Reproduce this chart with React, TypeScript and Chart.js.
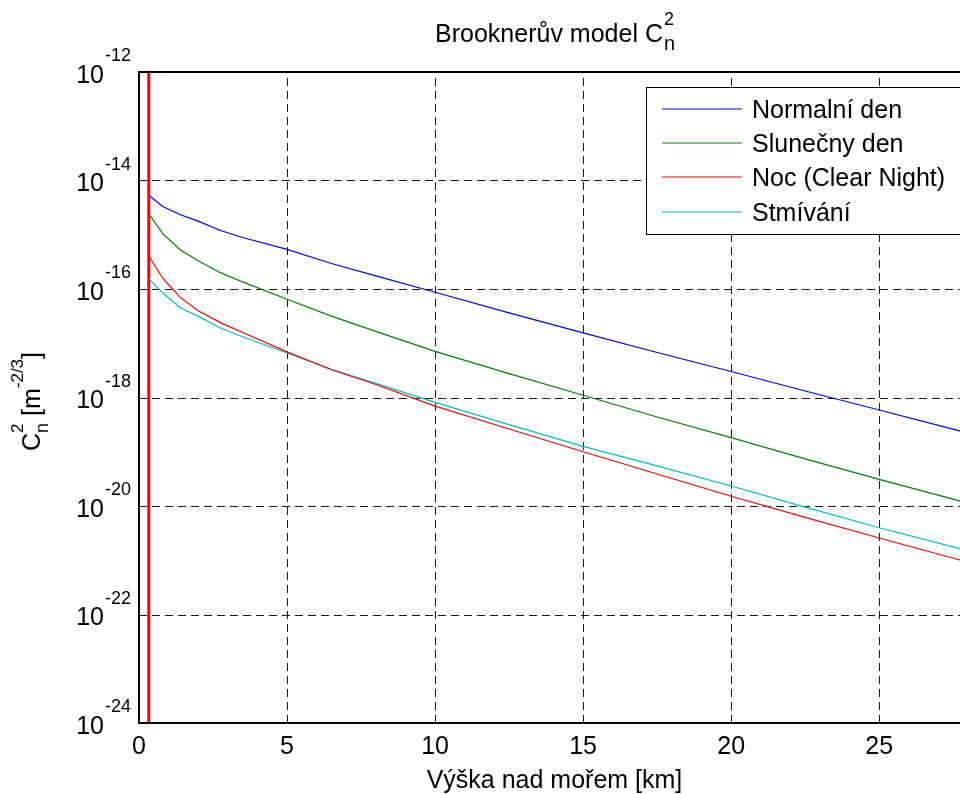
import { useEffect, useRef } from 'react';
import { Chart, registerables } from 'chart.js';

Chart.register(...registerables);

const FONT = "'Liberation Sans', Arial, Helvetica, sans-serif";

// Altitude samples [km]
const altitudeKm = [0.35, 0.8, 1.4, 2, 2.75, 3.5, 5, 6.5, 8, 10, 12.5, 15, 17.5, 20, 22.5, 25, 27.75, 28];

// Cn^2 values [m^-2/3]
const normalniDen = [5.25e-15, 3.31e-15, 2.34e-15, 1.78e-15, 1.2e-15, 8.91e-16, 5.37e-16, 2.95e-16, 1.74e-16, 8.71e-17, 3.63e-17, 1.55e-17, 6.76e-18, 3.02e-18, 1.32e-18, 5.89e-19, 2.4e-19, 2.19e-19];
const slunecnyDen = [2.34e-15, 1.05e-15, 5.25e-16, 3.31e-16, 2.0e-16, 1.35e-16, 6.46e-17, 3.16e-17, 1.66e-17, 7.08e-18, 2.75e-18, 1.1e-18, 4.37e-19, 1.82e-19, 7.41e-20, 3.09e-20, 1.23e-20, 1.12e-20];
const noc = [3.89e-16, 1.58e-16, 6.92e-17, 3.98e-17, 2.4e-17, 1.58e-17, 6.92e-18, 3.24e-18, 1.74e-18, 6.92e-19, 2.63e-19, 1.0e-19, 3.89e-20, 1.51e-20, 6.17e-21, 2.57e-21, 1.0e-21, 9.12e-22];
const stmivani = [1.51e-16, 8.51e-17, 4.47e-17, 3.16e-17, 1.91e-17, 1.32e-17, 6.61e-18, 3.31e-18, 1.82e-18, 8.13e-19, 3.16e-19, 1.26e-19, 5.5e-20, 2.34e-20, 9.55e-21, 3.98e-21, 1.62e-21, 1.48e-21];

const seriesLabels = ['Normalní den', 'Slunečny den', 'Noc (Clear Night)', 'Stmívání'];
const seriesColors = ['#0000ff', '#008000', '#ff0000', '#00bfbf'];

// Vertical red marker
const markerKm = [0.33, 0.33];
const markerVal = [1e-24, 1e-12];

// Axes
const xTickValues = [0, 5, 10, 15, 20, 25];
const yTickValues = [1e-24, 1e-22, 1e-20, 1e-18, 1e-16, 1e-14, 1e-12];
const yTickExponents = ['-24', '-22', '-20', '-18', '-16', '-14', '-12'];

const decorPlugin = {
  id: 'matlabDecor',
  beforeDatasetsDraw(chart: any) {
    const { ctx, chartArea } = chart;
    const xs = chart.scales.x;
    const ys = chart.scales.y;
    ctx.save();
    ctx.strokeStyle = 'rgba(0,0,0,0.9)';
    ctx.lineWidth = 1;
    ctx.setLineDash([8, 5]);
    ctx.beginPath();
    xTickValues.forEach((v) => {
      if (v === 0) return;
      const px = Math.round(xs.getPixelForValue(v)) + 0.5;
      ctx.moveTo(px, chartArea.bottom);
      ctx.lineTo(px, chartArea.top);
    });
    yTickValues.forEach((v, i) => {
      if (i === 0 || i === yTickValues.length - 1) return;
      const py = Math.round(ys.getPixelForValue(v)) + 0.5;
      ctx.moveTo(chartArea.left, py);
      ctx.lineTo(chartArea.right, py);
    });
    ctx.stroke();
    ctx.restore();
  },
  afterDraw(chart: any) {
    const { ctx, chartArea } = chart;
    const ys = chart.scales.y;
    ctx.save();
    ctx.setLineDash([]);
    // axes box
    ctx.strokeStyle = '#000';
    ctx.lineWidth = 2;
    ctx.strokeRect(chartArea.left, chartArea.top, chartArea.right - chartArea.left, chartArea.bottom - chartArea.top);

    ctx.fillStyle = '#000';
    ctx.textBaseline = 'alphabetic';
    ctx.textAlign = 'left';

    // y tick labels 10^e
    yTickValues.forEach((v, i) => {
      const py = ys.getPixelForValue(v);
      ctx.font = `25px ${FONT}`;
      const mainW = ctx.measureText('10').width;
      ctx.font = `18px ${FONT}`;
      const supW = ctx.measureText(yTickExponents[i]).width;
      const x0 = chartArea.left - 9 - supW - mainW;
      ctx.font = `25px ${FONT}`;
      ctx.fillText('10', x0, py + 10.5);
      ctx.font = `18px ${FONT}`;
      ctx.fillText(yTickExponents[i], x0 + mainW + 1, py - 11);
    });

    // title
    const cx = (chartArea.left + chartArea.right) / 2 + 1;
    ctx.font = `25px ${FONT}`;
    const tMain = 'Brooknerův model C';
    const tW = ctx.measureText(tMain).width;
    ctx.font = `18px ${FONT}`;
    const t2W = ctx.measureText('2').width;
    const tx = cx - (tW + t2W + 1) / 2;
    ctx.font = `25px ${FONT}`;
    ctx.fillText(tMain, tx, 42);
    ctx.font = `18px ${FONT}`;
    ctx.fillText('2', tx + tW + 1, 25);
    ctx.font = `20px ${FONT}`;
    ctx.fillText('n', tx + tW + 1, 50);

    // x axis label
    ctx.font = `25px ${FONT}`;
    ctx.textAlign = 'center';
    ctx.fillText('Výška nad mořem [km]', cx, 788);
    ctx.textAlign = 'left';

    // y axis label (rotated)
    ctx.save();
    ctx.translate(40, (chartArea.top + chartArea.bottom) / 2 + 4);
    ctx.rotate(-Math.PI / 2);
    ctx.font = `25px ${FONT}`;
    const wC = ctx.measureText('C').width;
    const wMid = ctx.measureText(' [m').width;
    const wEnd = ctx.measureText(']').width;
    ctx.font = `17px ${FONT}`;
    const w2 = ctx.measureText('2').width;
    const wExp = ctx.measureText('-2/3').width;
    ctx.font = `18px ${FONT}`;
    const wn = ctx.measureText('n').width;
    const wStack = Math.max(w2, wn);
    const total = wC + wStack + wMid + wExp + wEnd;
    let lx = -total / 2;
    ctx.font = `25px ${FONT}`;
    ctx.fillText('C', lx, 0);
    lx += wC;
    ctx.font = `17px ${FONT}`;
    ctx.fillText('2', lx, -17);
    ctx.font = `18px ${FONT}`;
    ctx.fillText('n', lx, 8);
    lx += wStack;
    ctx.font = `25px ${FONT}`;
    ctx.fillText(' [m', lx, 0);
    lx += wMid;
    ctx.font = `17px ${FONT}`;
    ctx.fillText('-2/3', lx, -17);
    lx += wExp;
    ctx.font = `25px ${FONT}`;
    ctx.fillText(']', lx, 0);
    ctx.restore();

    // legend
    const lgL = 646, lgT = 87, lgR = 962, lgB = 234;
    ctx.fillStyle = '#fff';
    ctx.fillRect(lgL, lgT, lgR - lgL, lgB - lgT);
    ctx.strokeStyle = '#000';
    ctx.lineWidth = 1;
    ctx.strokeRect(lgL + 0.5, lgT + 0.5, lgR - lgL, lgB - lgT);
    const rows = [109, 143, 177, 212];
    seriesLabels.forEach((lab, i) => {
      ctx.strokeStyle = seriesColors[i];
      ctx.lineWidth = 1.2;
      ctx.beginPath();
      ctx.moveTo(662, rows[i]);
      ctx.lineTo(742, rows[i]);
      ctx.stroke();
      ctx.fillStyle = '#000';
      ctx.font = `25px ${FONT}`;
      ctx.fillText(lab, 752, rows[i] + 8.5);
    });
    ctx.restore();
  },
};

export default function App() {
  const ref = useRef<HTMLCanvasElement | null>(null);

  useEffect(() => {
    if (!ref.current) return;
    const seriesValues = [normalniDen, slunecnyDen, noc, stmivani];
    const datasets: any[] = seriesValues.map((vals, si) => ({
      label: seriesLabels[si],
      data: altitudeKm.map((x, i) => ({ x, y: vals[i] })),
      borderColor: seriesColors[si],
      backgroundColor: seriesColors[si],
      borderWidth: 1.2,
      pointRadius: 0,
      tension: 0,
      fill: false,
    }));
    datasets.push({
      label: 'marker',
      data: markerKm.map((x, i) => ({ x, y: markerVal[i] })),
      borderColor: '#ff0000',
      borderWidth: 3,
      pointRadius: 0,
      fill: false,
    });

    const chart = new Chart(ref.current, {
      type: 'line',
      data: { datasets },
      options: {
        animation: false,
        responsive: false,
        maintainAspectRatio: false,
        devicePixelRatio: 1,
        layout: { padding: { top: 72, right: 32, bottom: 0, left: 0 } },
        plugins: {
          legend: { display: false },
          tooltip: { enabled: false },
          title: { display: false },
        },
        scales: {
          x: {
            type: 'linear',
            min: 0,
            max: 28,
            afterBuildTicks: (s: any) => {
              s.ticks = xTickValues.map((v) => ({ value: v }));
            },
            afterFit: (s: any) => {
              s.height = 71;
            },
            grid: { display: false, drawTicks: false },
            border: { display: false },
            ticks: {
              font: { family: FONT, size: 25 },
              color: '#000',
              padding: 9,
              maxRotation: 0,
              autoSkip: false,
            },
          },
          y: {
            type: 'logarithmic',
            min: 1e-24,
            max: 1e-12,
            afterBuildTicks: (s: any) => {
              s.ticks = yTickValues.map((v) => ({ value: v }));
            },
            afterFit: (s: any) => {
              s.width = 139;
            },
            grid: { display: false, drawTicks: false },
            border: { display: false },
            ticks: { display: false },
          },
        },
      } as any,
      plugins: [decorPlugin],
    });
    return () => chart.destroy();
  }, []);

  return (
    <div
      style={{
        position: 'fixed',
        left: 0,
        top: 0,
        width: 960,
        height: 794,
        overflow: 'hidden',
        background: '#fff',
      }}
    >
      <canvas ref={ref} width={1000} height={794} style={{ display: 'block' }} />
    </div>
  );
}
